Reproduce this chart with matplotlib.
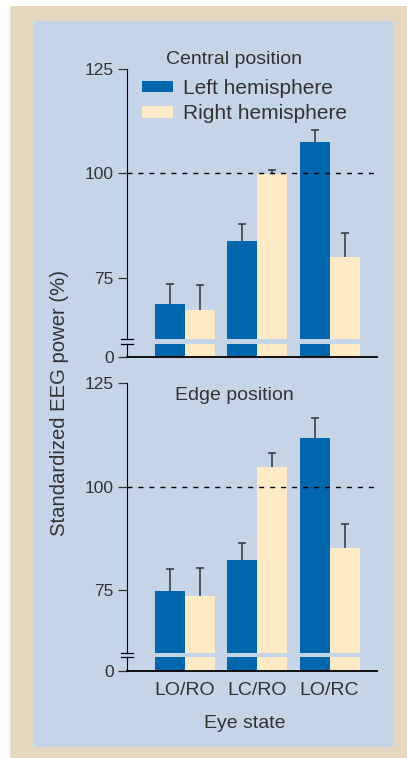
import matplotlib.pyplot as plt
from matplotlib.patches import Rectangle

plt.rcParams['font.family'] = ['Liberation Sans', 'DejaVu Sans']

# data
eye_states = ['LO/RO', 'LC/RO', 'LO/RC']
central_left = [68.7, 83.9, 107.6]
central_left_err = [4.9, 4.1, 2.8]
central_right = [67.3, 99.9, 79.9]
central_right_err = [6.0, 1.0, 5.9]
edge_left = [74.8, 82.2, 111.8]
edge_left_err = [5.3, 4.2, 4.8]
edge_right = [73.5, 104.8, 85.2]
edge_right_err = [6.8, 3.3, 5.8]

blue = '#0067ac'
cream = '#feebc5'
panel = '#c6d4e8'
beige = '#e6d7c0'
txt = '#333333'

W, H = 407, 758
fig = plt.figure(figsize=(W / 100, H / 100), dpi=100, facecolor='white')

# background boxes (pixel coords -> figure fraction)
def px_rect(x0, y0, x1, y1, color):
    fig.patches.append(Rectangle((x0 / W, 1 - y1 / H), (x1 - x0) / W, (y1 - y0) / H,
                                 transform=fig.transFigure, facecolor=color,
                                 edgecolor='none', zorder=-10))

px_rect(10, 6, W, H, beige)
px_rect(34, 21, 393, 747, panel)

def axes_px(top, bottom, left=127, right=377):
    return fig.add_axes([left / W, 1 - bottom / H, (right - left) / W, (bottom - top) / H])

x = list(range(len(eye_states)))
bw = 0.415
xlim = (-0.803, 2.657)


def upper_err(ax, xs, ys, errs):
    # only the upward half of the error bar, with its cap
    _, caps, _ = ax.errorbar(xs, ys, yerr=[[0] * len(ys), errs], fmt='none',
                             ecolor=txt, elinewidth=1.1, capsize=3, capthick=1.1, zorder=3)
    caps[0].set_visible(False)


def draw_panel(top_px, brk_px, low_top_px, low_bot_px, ylo, lowmax,
               left, left_err, right, right_err, title, title_y):
    ax = axes_px(top_px, brk_px)
    axl = axes_px(low_top_px, low_bot_px)
    for a in (ax, axl):
        a.set_facecolor('none')
        a.set_xlim(*xlim)
        b1 = a.bar([i - bw / 2 for i in x], left, bw, color=blue, zorder=2)
        b2 = a.bar([i + bw / 2 for i in x], right, bw, color=cream, zorder=2)
        for s in ('top', 'right'):
            a.spines[s].set_visible(False)
        a.spines['left'].set_color('black')
        a.tick_params(axis='y', length=6.5, width=0.9, direction='out', pad=3,
                      labelsize=12.5, labelcolor=txt, color=txt)
        a.tick_params(axis='x', length=0)
    ax.set_ylim(ylo, 125)
    axl.set_ylim(0, lowmax)
    ax.spines['bottom'].set_visible(False)
    ax.set_xticks([])
    ax.set_yticks([75, 100, 125])
    axl.set_yticks([0])
    axl.spines['bottom'].set_linewidth(1.3)
    axl.set_xticks(x)

    upper_err(ax, [i - bw / 2 for i in x], left, left_err)
    upper_err(ax, [i + bw / 2 for i in x], right, right_err)

    # 100 % reference
    ax.axhline(100, color='black', lw=1.0, dashes=(3.6, 4.3), zorder=4)

    # axis break marks
    d = 0.024
    ax.plot([-d, d], [0, 0], transform=ax.transAxes, color='black', lw=0.9, clip_on=False)
    axl.plot([-d, d], [1, 1], transform=axl.transAxes, color='black', lw=0.9, clip_on=False)

    fig.text(234 / W, 1 - title_y / H, title, ha='center', va='center',
             fontsize=14, color=txt)
    return ax, axl, b1, b2


ax1, ax1l, hb, hc = draw_panel(68.9, 339, 343.5, 356.7, 60.4, 3.16,
                               central_left, central_left_err, central_right, central_right_err,
                               'Central position', 59)
ax1l.set_xticklabels([])

ax2, ax2l, _, _ = draw_panel(383.3, 652.5, 657, 671.2, 59.9, 3.44,
                             edge_left, edge_left_err, edge_right, edge_right_err,
                             'Edge position', 395)
ax2l.set_xticklabels(eye_states, fontsize=14, color=txt)
ax2l.tick_params(axis='x', pad=8)

ax1.legend([hb, hc], ['Left hemisphere', 'Right hemisphere'], loc='upper left',
           bbox_to_anchor=(142 / W, 1 - 79 / H), bbox_transform=fig.transFigure,
           frameon=False, borderpad=0, borderaxespad=0, fontsize=15,
           handlelength=1.5, handleheight=0.48, handletextpad=0.45,
           labelspacing=0.3, labelcolor=txt)

fig.text(60 / W, 1 - 403 / H, 'Standardized EEG power (%)', rotation=90,
         ha='center', va='center', fontsize=14.6, color=txt)
fig.text(245 / W, 1 - 723 / H, 'Eye state', ha='center', va='center',
         fontsize=14, color=txt)

fig.savefig('out.png', dpi=100, facecolor=fig.get_facecolor())
